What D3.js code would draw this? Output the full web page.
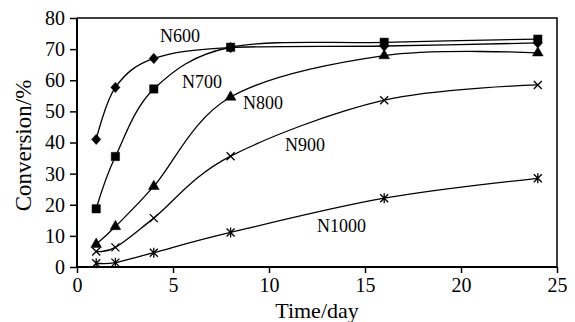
<!DOCTYPE html>
<html>
<head>
<meta charset="utf-8">
<script src="https://cdn.jsdelivr.net/npm/d3@7/dist/d3.min.js"></script>
<style>
html,body{margin:0;padding:0;background:#fff;}
svg{display:block;}
text{font-family:"Liberation Serif","Times New Roman",serif;fill:#000;}
</style>
</head>
<body>
<svg id="chart" width="575" height="322"></svg>
<script>
// Data
const days = [1, 2, 4, 8, 16, 24];
const n600 = [41, 57.7, 67, 70.5, 71, 72];
const n700 = [18.7, 35.5, 57.2, 70.6, 72.2, 73.2];
const n800 = [7.3, 13, 25.9, 54.6, 67.9, 68.8];
const n900 = [5, 6.3, 15.7, 35.6, 53.6, 58.5];
const n1000 = [1.2, 1.4, 4.6, 11.1, 22.1, 28.5];
const seriesNames = ["N600", "N700", "N800", "N900", "N1000"];
const xTicks = [0, 5, 10, 15, 20, 25];
const yTicks = [0, 10, 20, 30, 40, 50, 60, 70, 80];

const svg = d3.select("#chart");
const L = 77, R = 557, T = 18, B = 267;
const x = d3.scaleLinear().domain([0, 25]).range([L, R]);
const y = d3.scaleLinear().domain([0, 80]).range([B, T]);

// frame (top & right)
svg.append("path")
  .attr("d", `M${L},${T}H${R}V${B}`)
  .attr("fill", "none").attr("stroke", "#000").attr("stroke-width", 1.5);

// axes
const xAxis = svg.append("g").attr("transform", `translate(0,${B})`)
  .call(d3.axisBottom(x).tickValues(xTicks).tickSize(6).tickPadding(5).tickFormat(d3.format("d")));
const yAxis = svg.append("g").attr("transform", `translate(${L},0)`)
  .call(d3.axisLeft(y).tickValues(yTicks).tickSize(7).tickPadding(5).tickFormat(d3.format("d")));
[xAxis, yAxis].forEach(a => {
  a.attr("font-family", null);
  a.select(".domain").attr("stroke", "#000").attr("stroke-width", 2);
  a.selectAll(".tick line").attr("stroke", "#000").attr("stroke-width", 1.5);
  a.selectAll("text").attr("fill", "#000");
});
xAxis.selectAll("text").attr("font-size", 20);
yAxis.selectAll("text").attr("font-size", 20);
xAxis.select(".domain").attr("d", `M${L},0H${R}`);
yAxis.select(".domain").attr("d", `M0,${B}V${T}`);

// axis titles
svg.append("text").attr("x", (L + R) / 2).attr("y", 318)
  .attr("text-anchor", "middle").attr("font-size", 22).text("Time/day");
svg.append("text").attr("transform", `translate(31,${(T + B) / 2 + 3}) rotate(-90)`)
  .attr("text-anchor", "middle").attr("font-size", 23).text("Conversion/%");

// series
const allSeries = [n600, n700, n800, n900, n1000];
const line = d3.line().x(d => x(d[0])).y(d => y(d[1])).curve(d3.curveCardinal.tension(0));
const g = svg.append("g");
allSeries.forEach(vals => {
  const pts = days.map((d, i) => [d, vals[i]]);
  g.append("path").attr("d", line(pts)).attr("fill", "none")
    .attr("stroke", "#000").attr("stroke-width", 1.3);
});

// markers
const sym = [
  "M0,-5.2L4.6,0L0,5.2L-4.6,0Z",
  d3.symbol().type(d3.symbolSquare).size(70)(),
  d3.symbol().type(d3.symbolTriangle).size(50)(),
  "M-4,-4L4,4M-4,4L4,-4",
  "M-4,-4L4,4M-4,4L4,-4M0,-5V5"
];
allSeries.forEach((vals, si) => {
  const isStroke = si >= 3;
  g.selectAll(null).data(days.map((d, i) => [d, vals[i]])).enter()
    .append("path")
    .attr("transform", d => `translate(${x(d[0])},${y(d[1])})`)
    .attr("d", sym[si])
    .attr("fill", isStroke ? "none" : "#000")
    .attr("stroke", "#000")
    .attr("stroke-width", isStroke ? 1.3 : 0.5);
});

// series labels
const labelPos = [[160, 42], [182, 88], [243, 109], [285, 151], [317, 232]];
seriesNames.forEach((n, i) => {
  svg.append("text").attr("x", labelPos[i][0]).attr("y", labelPos[i][1])
    .attr("font-size", 18).text(n);
});
</script>
</body>
</html>
